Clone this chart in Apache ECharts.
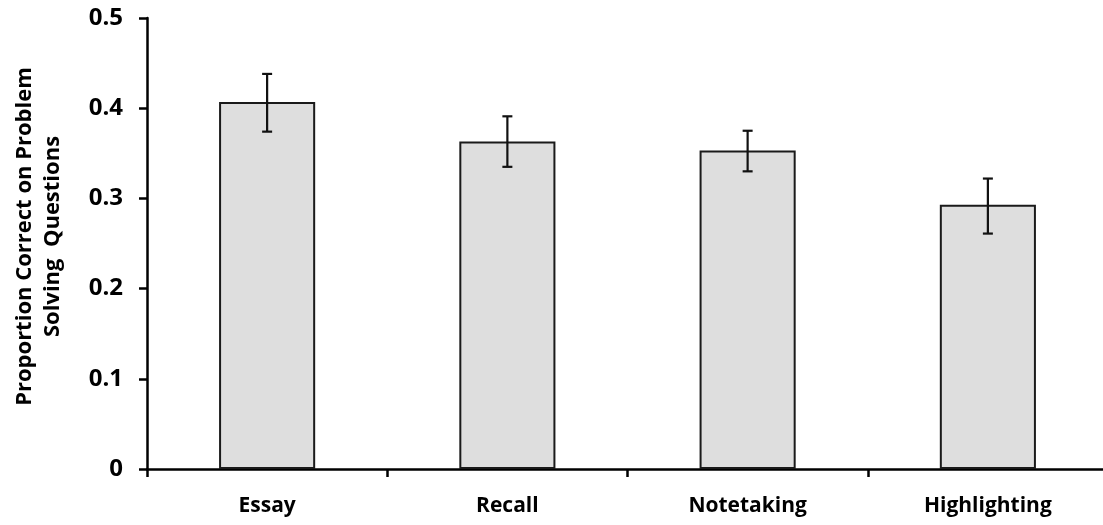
<!DOCTYPE html>
<html>
<head>
<meta charset="utf-8">
<script src="https://cdn.jsdelivr.net/npm/echarts@6/dist/echarts.min.js"></script>
<style>
  html, body { margin: 0; padding: 0; background: #fff; }
  #chart { width: 1103px; height: 525px; }
</style>
</head>
<body>
<div id="chart"></div>
<script>
// Study conditions and mean proportion correct on problem-solving questions
const categories = ['Essay', 'Recall', 'Notetaking', 'Highlighting'];
const means = [0.407, 0.363, 0.353, 0.293];
const errUpper = [0.438, 0.391, 0.375, 0.322];
const errLower = [0.374, 0.335, 0.330, 0.261];
const yTicks = [0, 0.1, 0.2, 0.3, 0.4, 0.5];

const FONT = '"Open Sans", "Liberation Sans", sans-serif';

const chart = echarts.init(document.getElementById('chart'), null, { renderer: 'canvas' });

const errorData = categories.map((c, i) => [i, errLower[i], errUpper[i]]);

chart.setOption({
  animation: false,
  backgroundColor: '#ffffff',
  grid: { left: 147, right: -5, top: 18, bottom: 56, containLabel: false, outerBoundsMode: 'none' },
  xAxis: {
    type: 'category',
    data: categories,
    boundaryGap: true,
    axisLine: { show: true, lineStyle: { color: '#000', width: 2.5 } },
    axisTick: { show: true, alignWithLabel: false, length: 8, lineStyle: { color: '#000', width: 2.5 } },
    axisLabel: { color: '#000', fontFamily: FONT, fontWeight: 'bold', fontSize: 21, margin: 27 },
    splitLine: { show: false }
  },
  yAxis: {
    type: 'value',
    min: 0,
    max: 0.5,
    interval: 0.1,
    name: 'Proportion Correct on Problem\nSolving  Questions',
    nameLocation: 'middle',
    nameRotate: 90,
    nameGap: 80,
    nameTextStyle: {
      color: '#000', fontFamily: FONT, fontWeight: 'bold', fontSize: 22, lineHeight: 28,
      align: 'center', padding: [0, 0, 0, 14]
    },
    axisLine: { show: true, lineStyle: { color: '#000', width: 2.5 } },
    axisTick: { show: true, length: 8, lineStyle: { color: '#000', width: 2.5 } },
    axisLabel: {
      color: '#000', fontFamily: FONT, fontWeight: 'bold', fontSize: 24, margin: 24,
      formatter: v => {
        const t = yTicks.find(x => Math.abs(x - v) < 1e-9);
        return t === 0 ? '0' : (t !== undefined ? t.toFixed(1) : '');
      }
    },
    splitLine: { show: false }
  },
  series: [
    {
      type: 'bar',
      data: means,
      barWidth: '40%',
      itemStyle: { color: '#dedede', borderColor: '#1a1a1a', borderWidth: 2 },
      z: 2
    },
    {
      type: 'custom',
      data: errorData,
      z: 5,
      renderItem: function (params, api) {
        const x = api.coord([api.value(0), 0])[0];
        const lo = api.coord([api.value(0), api.value(1)])[1];
        const hi = api.coord([api.value(0), api.value(2)])[1];
        const half = 5;
        const style = { stroke: '#111', lineWidth: 2.2 };
        return {
          type: 'group',
          children: [
            { type: 'line', shape: { x1: x, y1: lo, x2: x, y2: hi }, style },
            { type: 'line', shape: { x1: x - half, y1: hi, x2: x + half, y2: hi }, style },
            { type: 'line', shape: { x1: x - half, y1: lo, x2: x + half, y2: lo }, style }
          ]
        };
      }
    }
  ]
});
</script>
</body>
</html>
